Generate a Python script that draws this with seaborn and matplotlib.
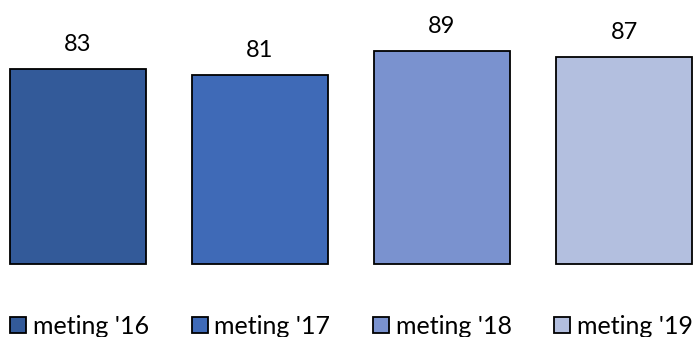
import matplotlib
matplotlib.use("Agg")
import matplotlib.pyplot as plt
import seaborn as sns
import pandas as pd
from matplotlib.patches import Patch

categories = ["meting '16", "meting '17", "meting '18", "meting '19"]
values = [83, 81, 89, 87]
colors = ["#335A99", "#3F6AB7", "#7A92CF", "#B3BFDF"]

BASE = 18.25   # value at the chart's baseline (axis does not start at 0)
TOP = 100

sns.set_theme(style="white")
plt.rcParams['font.family'] = ['Lato', 'DejaVu Sans']

df = pd.DataFrame({"cat": categories, "val": values})
df["above_base"] = df["val"] - BASE

fig = plt.figure(figsize=(6.93, 3.37), dpi=100)
ax = fig.add_axes([0, (337 - 263.5) / 337, 1, (263.5 - 18.25) / 337])
sns.barplot(data=df, x="cat", y="above_base", hue="cat", palette=colors, dodge=False,
            saturation=1, width=0.747, edgecolor="black", linewidth=1.3,
            legend=False, ax=ax)
for p in ax.patches:
    p.set_clip_on(False)
ax.set_ylim(0, TOP - BASE)
ax.set_xlim(-78 / 182, (693 - 78) / 182)
ax.axis("off")
for c, v in zip(ax.containers, values):
    ax.bar_label(c, labels=[f"{v}"], padding=10.5, fontsize=17, color="black")

LFS = 18
fs_px = LFS * 100 / 72
handles = [Patch(facecolor=col, edgecolor="black", linewidth=1.3) for col in colors]


def make_legend(cs):
    return fig.legend(handles, categories, loc="center left",
                      bbox_to_anchor=(10 / 693, 10.5 / 337), ncol=4, frameon=False,
                      fontsize=LFS, handlelength=16 / fs_px, handleheight=16 / fs_px,
                      handletextpad=7 / fs_px, columnspacing=cs, borderpad=0,
                      borderaxespad=0, labelcolor="black")


leg = make_legend(1.0)
fig.canvas.draw()
r = fig.canvas.get_renderer()
tw = leg.get_texts()[0].get_window_extent(r).width
cs = (181.5 - 16 - 7 - tw) / fs_px
leg.remove()
leg = make_legend(cs)

fig.savefig("out.png", dpi=100)
